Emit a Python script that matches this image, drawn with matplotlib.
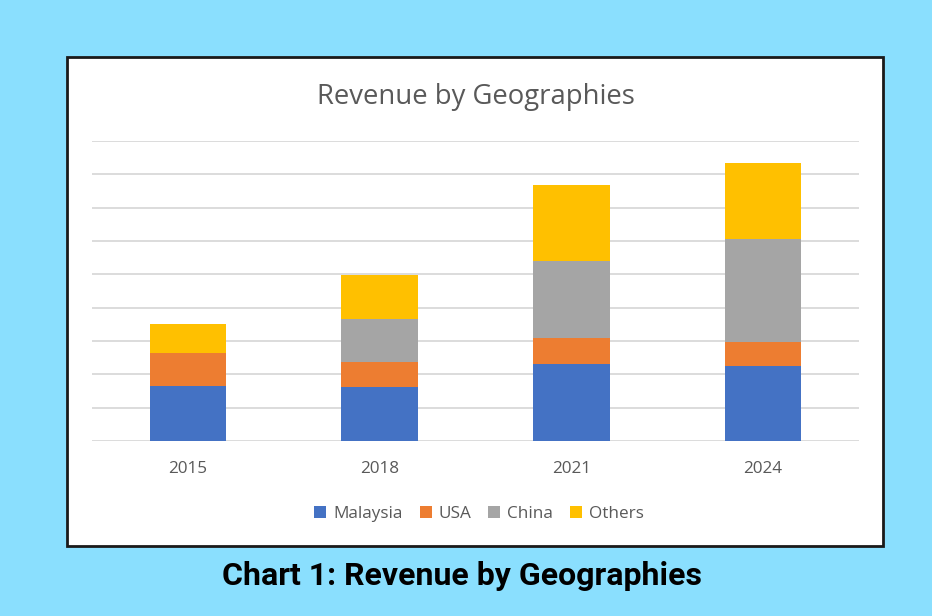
import matplotlib.pyplot as plt
from matplotlib.patches import Rectangle
import numpy as np

# data (units = gridline steps)
years = ["2015", "2018", "2021", "2024"]
malaysia = [1.65, 1.61, 2.31, 2.25]
usa = [1.00, 0.76, 0.77, 0.72]
china = [0.00, 1.28, 2.32, 3.10]
others = [0.85, 1.33, 2.28, 2.26]

series = ["Malaysia", "USA", "China", "Others"]
colors = ["#4472C4", "#ED7D31", "#A5A5A5", "#FFC000"]

W, H = 932, 616
fig = plt.figure(figsize=(W / 100, H / 100), dpi=100, facecolor="#8ADFFE")

# white chart box
fig.patches.append(Rectangle((67 / W, 1 - 546 / H), (883 - 67) / W, (546 - 57) / H,
                             transform=fig.transFigure, facecolor="white",
                             edgecolor="#1a1a1a", linewidth=2, zorder=-1))

ax = fig.add_axes([92 / W, 1 - 441 / H, (859 - 92) / W, (441 - 141) / H])
ax.set_facecolor("none")
ax.set_zorder(1)

x = np.arange(len(years))
bottom = np.zeros(len(years))
for name, vals, c in zip(series, [malaysia, usa, china, others], colors):
    ax.bar(x, vals, 0.4, bottom=bottom, color=c, label=name, zorder=3)
    bottom += np.array(vals)

ax.set_xlim(-0.5, 3.5)
ax.set_ylim(0, 9)
ax.set_yticks(np.arange(0, 10))
ax.yaxis.grid(True, color="#D9D9D9", linewidth=1.3, zorder=0)
ax.set_yticklabels([])
ax.tick_params(left=False, bottom=False)
for s in ax.spines.values():
    s.set_visible(False)
ax.set_xticks(x)
ax.set_xticklabels(years, fontsize=12.3, color="#595959", family="Open Sans")
ax.tick_params(axis="x", pad=11)

fig.text(476 / W, 1 - 97 / H, "Revenue by Geographies", ha="center", va="center",
         fontsize=19.8, color="#595959", family="Open Sans")

fig.legend(loc="center", bbox_to_anchor=(479 / W, 1 - 514 / H), ncol=4, frameon=False,
           prop={"family": "Open Sans", "size": 12.3}, labelcolor="#595959",
           handlelength=0.7, handleheight=0.7, handletextpad=0.4, columnspacing=1.0)

fig.text(462.5 / W, 1 - 576 / H, "Chart 1: Revenue by Geographies", ha="center", va="center",
         fontsize=23, fontweight="bold", color="black", family="Roboto")

fig.savefig("out.png", dpi=100, facecolor=fig.get_facecolor())
